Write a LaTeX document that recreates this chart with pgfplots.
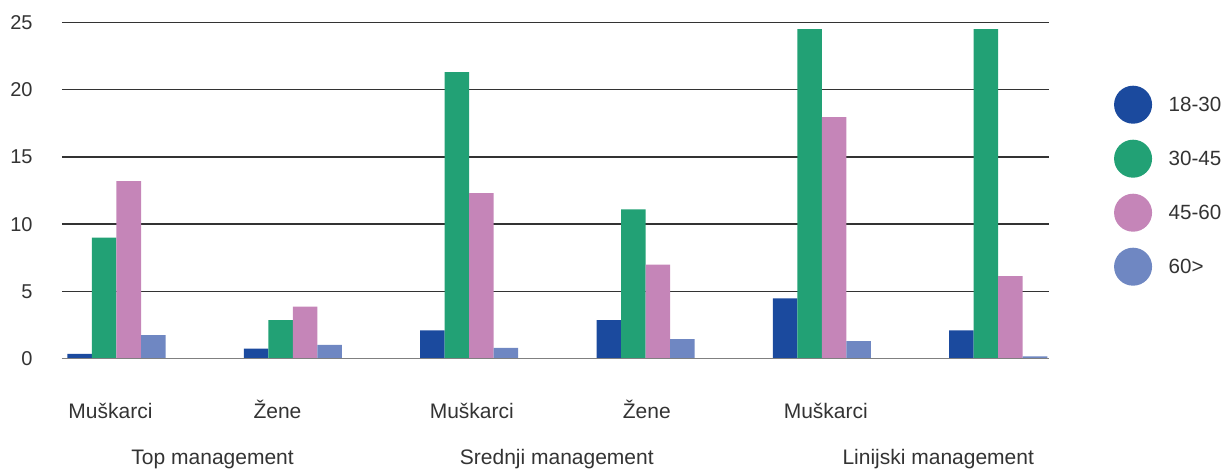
\documentclass[border=0pt]{standalone}
\usepackage{pgfplots}
\pgfplotsset{compat=1.18}
\usepackage{fontspec}
\setmainfont{Liberation Sans}

\definecolor{c1}{HTML}{1B4A9E}
\definecolor{c2}{HTML}{22A175}
\definecolor{c3}{HTML}{C585B8}
\definecolor{c4}{HTML}{6F87C2}
\definecolor{txt}{HTML}{333333}

\begin{document}
\begin{tikzpicture}
\begin{axis}[
    scale only axis,
    width=493.5pt, height=168.2pt,
    xmin=-0.309, xmax=5.288,
    ymin=0, ymax=25,
    ybar=0pt, bar width=0.139,
    axis line style={draw=none},
    major tick length=0pt,
    ytick={0,5,...,25},
    ymajorgrids,
    grid style={black!80, line width=0.7pt},
    xtick={-0.034,0.913,2.015,3.007,4.022},
    xticklabels={Muškarci,Žene,Muškarci,Žene,Muškarci},
    xticklabel style={anchor=base, yshift=-29.7pt, font=\fontsize{10.5}{12}\selectfont},
    yticklabel style={anchor=east, xshift=-11.2pt, font=\fontsize{10}{12}\selectfont},
    tick label style={text=txt},
    /pgf/number format/assume math mode=true,
    clip=false,
    legend style={at={(1.0655,0.8127)}, anchor=north west, draw=none, fill=none,
        inner sep=0pt, row sep=8pt, column sep=6.3pt,
        font=\fontsize{10.3}{12}\selectfont, text=txt, cells={anchor=west}},
    legend image code/.code={\fill[#1] (9.5pt,0.6pt) circle (9.5pt);},
]
\addplot[fill=c1, draw=none] coordinates {(0,0.35) (1,0.74) (2,2.1) (3,2.87) (4,4.48) (5,2.1)};
\addplot[fill=c2, draw=none] coordinates {(0,9.0) (1,2.87) (2,21.3) (3,11.1) (4,24.5) (5,24.5)};
\addplot[fill=c3, draw=none] coordinates {(0,13.2) (1,3.87) (2,12.3) (3,7.0) (4,17.96) (5,6.14)};
\addplot[fill=c4, draw=none] coordinates {(0,1.76) (1,1.02) (2,0.8) (3,1.46) (4,1.31) (5,0.17)};
\legend{18-30,30-45,45-60,60>}
\draw[black!50, line width=0.7pt] (axis cs:-0.309,0) -- (axis cs:5.288,0);
\node[anchor=base, yshift=-53pt, font=\fontsize{10.5}{12}\selectfont, text=txt] at (axis cs:0.545,0) {Top management};
\node[anchor=base, yshift=-53pt, font=\fontsize{10.5}{12}\selectfont, text=txt] at (axis cs:2.497,0) {Srednji management};
\node[anchor=base, yshift=-53pt, font=\fontsize{10.5}{12}\selectfont, text=txt] at (axis cs:4.66,0) {Linijski management};
\end{axis}
\path (current axis.south west) ++(-31pt,-55.65pt) rectangle ++(613pt,235pt);
\end{tikzpicture}
\end{document}
